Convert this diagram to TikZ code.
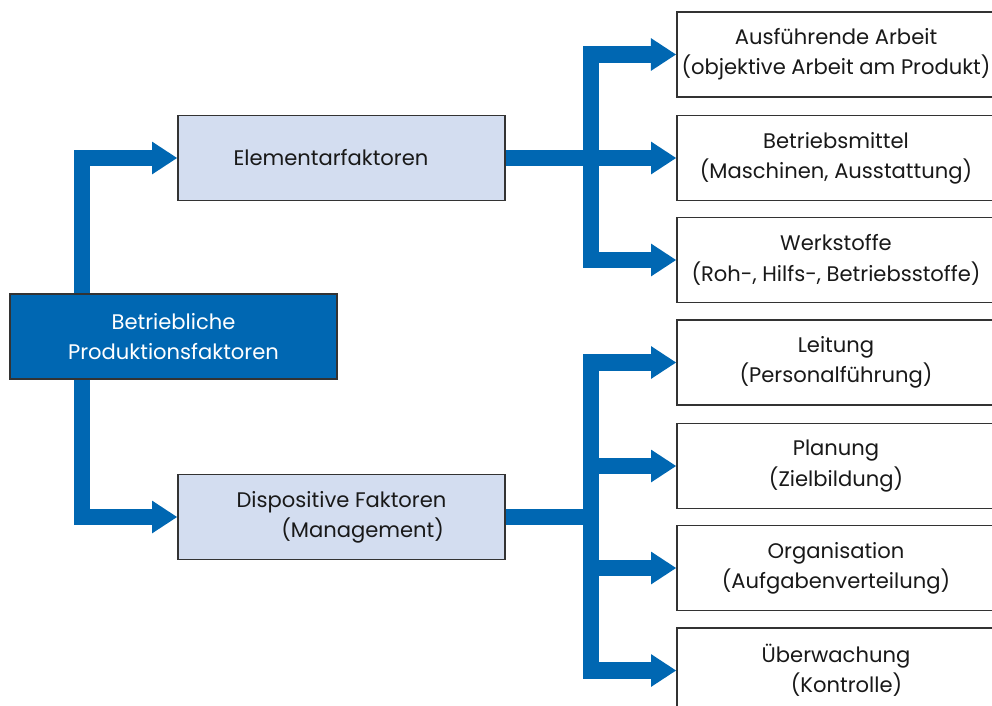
\documentclass[tikz,border=0pt]{standalone}
\usepackage{fontspec}
\setmainfont{Poppins}
\usepackage{tikz}
\usetikzlibrary{arrows.meta}
\definecolor{dunkelblau}{RGB}{0,103,178}
\definecolor{hellblau}{RGB}{211,221,240}

\begin{document}
\begin{tikzpicture}[x=0.025cm,y=-0.025cm,
  box/.style={draw=black!80,line width=0.9pt,minimum width=8.175cm,minimum height=2.125cm,
    align=center,font=\fontsize{15}{21.5}\selectfont,text=black!90},
  zielbox/.style={box,fill=white,minimum width=7.95cm},
  pfeil/.style={draw=dunkelblau,line width=11.5pt,line join=miter,
    -{Triangle[length=18pt,width=22pt]}}]
\useasboundingbox (0,0) rectangle (992,705);

\node [box,fill=dunkelblau,text=white] (haupt) at (173.5,336.5) {Betriebliche\\Produktionsfaktoren};
\node [box,fill=hellblau] (elem) at (341.5,158) {Elementarfaktoren\hspace*{1em}};
\node [box,fill=hellblau] (dispo) at (341.5,517) {Dispositive Faktoren\\\hspace*{2em}(Management)};

\node [zielbox] (arbeit) at (836,54.5) {Ausführende Arbeit\\(objektive Arbeit am Produkt)};
\node [zielbox] (mittel) at (836,158) {Betriebsmittel\\(Maschinen, Ausstattung)};
\node [zielbox] (stoffe) at (836,260) {Werkstoffe\\(Roh-, Hilfs-, Betriebsstoffe)};
\node [zielbox] (leitung) at (836,362.5) {Leitung\\(Personalführung)};
\node [zielbox] (planung) at (836,466) {Planung\\(Zielbildung)};
\node [zielbox] (orga) at (836,568) {Organisation\\(Aufgabenverteilung)};
\node [zielbox] (kontrolle) at (836,670.5) {Überwachung\\\hspace*{1em}(Kontrolle)};

\coordinate (links) at (82,336.5);
\coordinate (knoten1) at (591,158);
\coordinate (knoten2) at (591,517);

\draw [pfeil] (haupt.north -| links) |- (elem.west);
\draw [pfeil] (haupt.south -| links) |- (dispo.west);

\draw [pfeil] (elem.east) -- (mittel.west);
\draw [pfeil] (knoten1) |- (arbeit.west);
\draw [pfeil] (knoten1) |- (stoffe.west);

\draw [pfeil,-] (dispo.east) -- (knoten2);
\draw [pfeil] (knoten2) |- (leitung.west);
\draw [pfeil] (knoten2) |- (planung.west);
\draw [pfeil] (knoten2) |- (orga.west);
\draw [pfeil] (knoten2) |- (kontrolle.west);
\end{tikzpicture}
\end{document}
